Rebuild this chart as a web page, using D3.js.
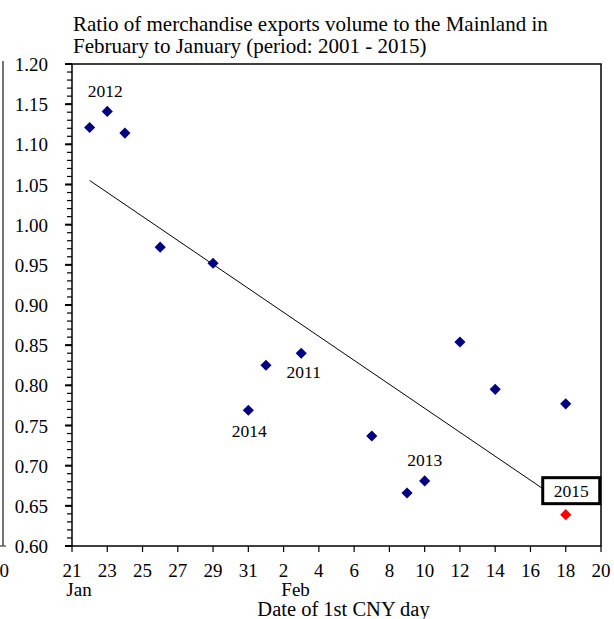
<!DOCTYPE html>
<html><head><meta charset="utf-8">
<script src="https://cdn.jsdelivr.net/npm/d3@7"></script>
<style>body{margin:0;background:#fff}svg{display:block}text{font-family:"Liberation Serif","Times New Roman",serif;fill:#000}</style>
</head><body>
<svg id="c" width="614" height="619"></svg>
<script>
// Day numbering: Jan d -> d, Feb d -> 31 + d
const years   = [2001, 2002, 2003, 2004, 2005, 2006, 2007, 2008, 2009, 2010, 2011, 2012, 2013, 2014, 2015];
const cnyDay  = [24, 43, 32, 22, 40, 29, 49, 38, 26, 45, 34, 23, 41, 31, 49];
const ratio   = [1.114, 0.854, 0.825, 1.121, 0.666, 0.952, 0.777, 0.737, 0.972, 0.795, 0.840, 1.141, 0.681, 0.769, 0.639];
const trendX  = [22, 49];
const trendY  = [1.055, 0.652];
const xTickVals   = [21, 23, 25, 27, 29, 31, 33, 35, 37, 39, 41, 43, 45, 47, 49, 51];
const xTickLabels = ["21","23","25","27","29","31","2","4","6","8","10","12","14","16","18","20"];
const yTicks = [0.60,0.65,0.70,0.75,0.80,0.85,0.90,0.95,1.00,1.05,1.10,1.15,1.20];
const labeled = [2011, 2012, 2013, 2014];
const titleLines = ["Ratio of merchandise exports volume to the Mainland in", "February to January (period: 2001 - 2015)"];

const svg = d3.select("#c");
const L = 72, R = 601, T = 64, B = 546;
const x = d3.scaleLinear().domain([21, 51]).range([L, R]);
const y = d3.scaleLinear().domain([0.60, 1.20]).range([B, T]);

// neighbouring chart fragment at left edge
svg.append("line").attr("x1",3).attr("x2",3).attr("y1",61).attr("y2",546).attr("stroke","#444").attr("stroke-width",1.5);
svg.append("line").attr("x1",0).attr("x2",6).attr("y1",546).attr("y2",546).attr("stroke","#444").attr("stroke-width",1.2);
svg.append("text").attr("x",-10).attr("y",577).attr("font-size",19).text("20");

// title
titleLines.forEach((t,i)=>svg.append("text").attr("x",73).attr("y",31+i*22).attr("font-size",21).text(t));

// frame
svg.append("rect").attr("x",L).attr("y",T).attr("width",R-L).attr("height",B-T).attr("fill","none").attr("stroke","#000").attr("stroke-width",1.5);

// y axis
const yMinor = d3.range(60, 121).map(v=>v/100);
const gy = svg.append("g");
gy.selectAll("line.mn").data(yMinor).join("line").attr("x1",L-5).attr("x2",L).attr("y1",d=>y(d)).attr("y2",d=>y(d)).attr("stroke","#000").attr("stroke-width",1.2);
gy.selectAll("line.mj").data(yTicks).join("line").attr("x1",L-7).attr("x2",L).attr("y1",d=>y(d)).attr("y2",d=>y(d)).attr("stroke","#000").attr("stroke-width",2);
gy.selectAll("text").data(yTicks).join("text").attr("x",L-24).attr("y",d=>y(d)+7).attr("text-anchor","end").attr("font-size",19).text(d=>d.toFixed(2));

// x axis
const gx = svg.append("g");
gx.selectAll("line").data(xTickVals).join("line").attr("x1",d=>x(d)).attr("x2",d=>x(d)).attr("y1",B).attr("y2",B+6).attr("stroke","#000").attr("stroke-width",1.2);
gx.selectAll("text").data(xTickVals).join("text").attr("x",d=>x(d)).attr("y",B+31).attr("text-anchor","middle").attr("font-size",19).text((d,i)=>xTickLabels[i]);
svg.append("text").attr("x",x(21)+7).attr("y",596).attr("text-anchor","middle").attr("font-size",19).text("Jan");
svg.append("text").attr("x",x(33)+12).attr("y",596).attr("text-anchor","middle").attr("font-size",19).text("Feb");
svg.append("text").attr("x",343.5).attr("y",616).attr("text-anchor","middle").attr("font-size",20.5).text("Date of 1st CNY day");

// trend line
svg.append("line").attr("x1",x(trendX[0])).attr("y1",y(trendY[0])).attr("x2",x(trendX[1])).attr("y2",y(trendY[1])).attr("stroke","#000").attr("stroke-width",1);

// points
const pts = years.map((yr,i)=>({yr, d:cnyDay[i], v:ratio[i]}));
svg.selectAll("path.pt").data(pts).join("path")
  .attr("d", d3.symbol().type(d3.symbolSquare).size(62))
  .attr("transform",d=>`translate(${x(d.d)},${y(d.v)}) rotate(45)`)
  .attr("fill",d=>d.yr===2015?"#ff0000":"#000080");

// year labels
const off = {2012:[-2,-14], 2011:[2.5,25], 2014:[1,27], 2013:[0,-15]};
pts.filter(p=>labeled.includes(p.yr)).forEach(p=>{
  svg.append("text").attr("x",x(p.d)+off[p.yr][0]).attr("y",y(p.v)+off[p.yr][1]).attr("text-anchor","middle").attr("font-size",17.5).text(p.yr);
});

// 2015 boxed label
const p15 = pts.find(p=>p.yr===2015);
const px = x(p15.d), py = y(p15.v);
svg.append("rect").attr("x",px-23).attr("y",py-37).attr("width",57).attr("height",26).attr("fill","#fff").attr("stroke","#000").attr("stroke-width",3);
svg.append("text").attr("x",px+5.5).attr("y",py-18).attr("text-anchor","middle").attr("font-size",17.5).text("2015");
</script>
</body></html>
